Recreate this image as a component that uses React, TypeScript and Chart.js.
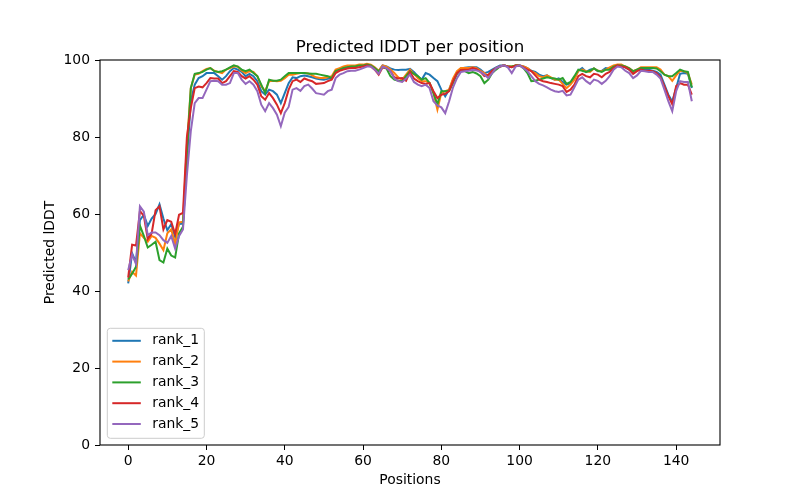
import React, { useEffect, useRef } from "react";
import { Chart, registerables } from "chart.js";

Chart.register(...registerables);

const seriesNames = ["rank_1", "rank_2", "rank_3", "rank_4", "rank_5"];
const seriesColors = ["#1f77b4", "#ff7f0e", "#2ca02c", "#d62728", "#9467bd"];

const rank1 = [
  42.0, 49.8, 47.4, 58.4, 59.8, 56.9, 58.8, 60.0, 62.5, 58.8, 55.8, 57.4, 54.0, 57.4, 57.5,
  74.0, 89.3, 93.6, 95.3, 95.8, 96.6, 96.6, 96.6, 95.8, 94.9, 95.8, 97.1, 97.9, 97.5, 96.9, 95.8, 96.4, 95.8, 94.5, 91.9, 91.0, 92.3, 91.9, 91.0, 88.8, 91.4, 94.0,
  95.5, 95.3, 95.8, 96.0, 95.8, 95.5, 95.2, 95.0, 94.9, 95.1, 95.3, 96.9, 97.5, 97.8, 98.1, 98.3, 98.3, 98.6, 98.6, 98.8, 98.6, 97.9, 97.1, 98.6, 98.3, 97.8, 97.5, 97.4,
  97.5, 97.5, 97.7, 96.9, 95.8, 94.9, 96.6, 96.2, 95.3, 94.5, 92.3, 90.6, 92.3, 94.9, 96.6, 97.8, 98.0, 98.1, 98.1, 98.1, 97.5, 96.6, 96.9, 97.5, 98.1, 98.6,
  98.6, 98.3, 98.1, 98.6, 98.6, 98.3, 97.9, 97.2, 96.9, 96.2, 95.8, 96.0, 95.3, 94.9, 95.2, 94.3, 93.6, 94.0, 95.3, 97.2, 97.9, 96.9, 97.5, 97.8, 97.1, 97.2, 97.9, 97.7,
  98.3, 98.6, 98.6, 98.1, 97.5, 96.6, 97.5, 97.8, 97.5, 97.5, 97.2, 96.9, 96.2, 93.6, 91.0, 89.2, 92.7, 96.4, 96.6, 96.4, 92.7,
];

const rank2 = [
  42.5, 45.0, 44.0, 55.0, 53.8, 52.8, 54.3, 53.8, 52.3, 50.6, 55.0, 56.0, 52.2, 57.8, 58.0,
  78.0, 92.7, 96.2, 96.4, 97.1, 97.7, 97.9, 97.2, 96.9, 96.6, 97.5, 97.9, 98.3, 98.3, 97.2, 96.6, 97.1, 96.9, 95.8, 93.2, 91.9, 94.5, 94.6, 94.5, 94.6, 95.3, 96.2,
  96.2, 96.4, 96.6, 96.6, 96.5, 96.0, 95.5, 95.3, 95.3, 95.5, 95.8, 97.5, 97.9, 98.3, 98.6, 98.6, 98.6, 98.8, 98.8, 99.0, 98.8, 98.1, 97.2, 98.6, 98.3, 97.5, 96.6, 95.5,
  94.9, 96.2, 97.5, 96.4, 95.3, 94.5, 94.5, 94.0, 91.4, 87.1, 91.4, 91.9, 92.3, 95.2, 97.1, 97.9, 97.9, 97.9, 98.1, 97.9, 97.2, 96.6, 95.8, 97.1, 97.9, 98.3,
  98.6, 98.3, 98.3, 98.6, 98.6, 98.3, 97.9, 97.1, 96.6, 95.8, 95.5, 96.0, 95.5, 94.9, 94.9, 93.8, 92.7, 93.6, 94.9, 97.2, 97.5, 97.1, 96.9, 97.8, 97.2, 97.1, 97.5, 98.1,
  98.6, 98.8, 98.8, 98.3, 97.9, 97.1, 97.5, 98.1, 98.1, 98.1, 98.1, 98.1, 97.5, 96.2, 95.8, 94.6, 96.0, 97.2, 97.1, 96.6, 93.6,
];

const rank3 = [
  43.0, 44.5, 46.3, 57.0, 54.3, 51.3, 52.0, 52.8, 48.0, 47.4, 51.0, 49.2, 48.7, 55.0, 56.7,
  76.0, 92.7, 96.4, 96.6, 96.9, 97.5, 97.9, 97.1, 96.9, 97.1, 97.5, 98.1, 98.6, 98.3, 97.5, 97.1, 97.5, 96.6, 95.8, 93.6, 91.4, 94.9, 94.6, 94.6, 94.9, 95.8, 96.6,
  96.6, 96.6, 96.6, 96.6, 96.5, 96.4, 96.4, 96.2, 96.0, 95.8, 95.3, 97.1, 97.5, 97.9, 98.1, 98.3, 98.3, 98.6, 98.6, 98.8, 98.6, 97.9, 97.1, 98.1, 97.8, 95.8, 94.9, 94.6,
  94.5, 95.8, 97.1, 96.4, 95.8, 94.9, 95.3, 94.0, 91.4, 88.5, 91.9, 91.9, 92.0, 94.0, 96.4, 97.4, 97.1, 96.6, 96.9, 96.5, 95.8, 94.0, 94.9, 96.6, 97.5, 98.3,
  98.6, 98.3, 98.3, 98.6, 98.6, 97.9, 96.6, 94.5, 94.6, 94.9, 95.2, 95.5, 95.3, 95.2, 94.9, 95.3, 93.8, 94.3, 95.8, 97.5, 97.2, 96.9, 97.2, 97.8, 97.2, 96.9, 97.5, 97.5,
  98.3, 98.6, 98.6, 98.3, 97.8, 97.1, 97.5, 97.9, 97.9, 97.9, 97.9, 97.8, 97.1, 96.2, 95.8, 95.8, 96.6, 97.5, 97.1, 96.9, 92.9,
];

const rank4 = [
  43.5, 52.0, 51.8, 60.8, 59.5, 53.5, 55.0, 61.0, 62.0, 56.0, 58.4, 58.0, 54.8, 59.8, 60.3,
  80.0, 87.5, 92.7, 93.1, 92.9, 94.0, 95.3, 95.2, 95.2, 94.0, 94.5, 95.8, 97.1, 96.9, 95.8, 95.2, 95.8, 94.9, 93.6, 90.6, 89.7, 91.4, 90.1, 88.4, 86.2, 88.8, 92.3,
  94.5, 94.9, 94.3, 95.2, 94.8, 94.5, 93.8, 93.9, 94.0, 94.5, 94.9, 96.6, 97.2, 97.5, 97.8, 97.9, 97.9, 98.1, 98.3, 98.6, 98.3, 97.5, 96.2, 98.1, 97.9, 97.1, 95.5, 95.2,
  95.3, 94.6, 96.9, 95.2, 94.5, 94.0, 93.8, 94.0, 91.9, 90.1, 91.0, 91.2, 91.9, 94.5, 96.6, 97.4, 97.5, 97.5, 97.9, 97.6, 96.9, 95.8, 96.2, 97.2, 97.9, 98.3,
  98.6, 98.3, 98.1, 98.6, 98.6, 98.1, 97.5, 97.1, 96.0, 94.9, 94.5, 94.3, 94.0, 93.8, 93.6, 93.2, 91.7, 92.3, 93.6, 95.8, 96.4, 95.8, 95.5, 96.4, 96.2, 95.5, 96.4, 96.9,
  97.9, 98.6, 98.3, 98.1, 97.5, 96.4, 97.1, 97.5, 97.2, 97.2, 97.1, 96.6, 95.5, 93.2, 90.6, 88.5, 93.2, 94.0, 93.6, 93.6, 91.0,
];

const rank5 = [
  45.4, 49.5, 47.0, 62.0, 60.6, 54.5, 55.2, 55.2, 54.5, 53.2, 52.5, 54.3, 51.0, 54.3, 56.0,
  70.0, 81.5, 88.8, 90.1, 90.1, 92.3, 94.5, 94.6, 94.5, 93.6, 93.6, 94.0, 96.6, 96.6, 94.9, 93.8, 94.5, 93.6, 91.9, 88.4, 86.7, 88.8, 87.5, 85.8, 82.8, 86.3, 87.8,
  92.3, 92.7, 92.0, 93.2, 93.6, 92.6, 91.4, 91.2, 91.0, 91.9, 92.3, 95.3, 96.2, 96.6, 97.1, 97.2, 97.2, 97.5, 97.9, 98.3, 98.3, 97.5, 96.4, 98.3, 97.9, 97.1, 95.2, 94.5,
  94.3, 95.2, 96.2, 94.3, 93.6, 93.2, 93.6, 92.7, 89.3, 88.2, 87.7, 86.2, 89.3, 92.9, 95.3, 96.9, 97.1, 97.2, 97.4, 97.3, 96.9, 96.2, 95.3, 96.6, 97.9, 98.3,
  98.6, 98.1, 96.6, 98.3, 98.6, 97.9, 97.1, 95.8, 94.5, 93.8, 93.4, 92.9, 92.3, 91.9, 91.7, 92.0, 90.8, 91.0, 92.9, 94.9, 95.5, 94.5, 93.8, 94.9, 94.6, 93.8, 94.6, 95.8,
  97.5, 98.3, 98.1, 97.2, 96.6, 95.3, 96.0, 97.2, 97.1, 96.9, 96.9, 96.2, 95.2, 92.3, 89.3, 86.7, 91.9, 94.5, 94.3, 94.3, 89.3,
];

const seriesValues = [rank1, rank2, rank3, rank4, rank5];
const xTicks = [0, 20, 40, 60, 80, 100, 120, 140];
const yTicks = [0, 20, 40, 60, 80, 100];
const titleText = "Predicted lDDT per position";
const xLabel = "Positions";
const yLabel = "Predicted lDDT";

const FONT = "'DejaVu Sans', sans-serif";

const decorPlugin = {
  id: "decor",
  afterDraw(chart: any) {
    const ctx = chart.ctx;
    const { left, right, top, bottom } = chart.chartArea;
    ctx.save();
    // frame
    ctx.strokeStyle = "#000";
    ctx.lineWidth = 1.1;
    ctx.strokeRect(left, top, right - left, bottom - top);
    // title
    ctx.fillStyle = "#000";
    ctx.font = `16.7px ${FONT}`;
    ctx.textAlign = "center";
    ctx.textBaseline = "alphabetic";
    ctx.fillText(titleText, (left + right) / 2, top - 8.5);
    // x label
    ctx.font = `13.9px ${FONT}`;
    ctx.textBaseline = "middle";
    ctx.fillText(xLabel, (left + right) / 2, 480);
    // y label
    ctx.save();
    ctx.translate(50, (top + bottom) / 2);
    ctx.rotate(-Math.PI / 2);
    ctx.fillText(yLabel, 0, 0);
    ctx.restore();
    // legend (lower left)
    const lx = left + 7.3;
    const ly = bottom - 116.7;
    const lw = 97;
    const lh = 110;
    const r = 3;
    ctx.beginPath();
    ctx.moveTo(lx + r, ly);
    ctx.lineTo(lx + lw - r, ly);
    ctx.arcTo(lx + lw, ly, lx + lw, ly + r, r);
    ctx.lineTo(lx + lw, ly + lh - r);
    ctx.arcTo(lx + lw, ly + lh, lx + lw - r, ly + lh, r);
    ctx.lineTo(lx + r, ly + lh);
    ctx.arcTo(lx, ly + lh, lx, ly + lh - r, r);
    ctx.lineTo(lx, ly + r);
    ctx.arcTo(lx, ly, lx + r, ly, r);
    ctx.closePath();
    ctx.fillStyle = "rgba(255,255,255,0.8)";
    ctx.fill();
    ctx.strokeStyle = "#cccccc";
    ctx.lineWidth = 1;
    ctx.stroke();
    ctx.font = `13.9px ${FONT}`;
    ctx.textAlign = "left";
    ctx.textBaseline = "middle";
    chart.data.datasets.forEach((ds: any, i: number) => {
      const y = ly + 12.5 + i * 20.8;
      ctx.strokeStyle = ds.borderColor;
      ctx.lineWidth = 2;
      ctx.beginPath();
      ctx.moveTo(lx + 5, y);
      ctx.lineTo(lx + 33.5, y);
      ctx.stroke();
      ctx.fillStyle = "#000";
      ctx.fillText(ds.label, lx + 45, y);
    });
    ctx.restore();
  },
};

export default function App() {
  const canvasRef = useRef<HTMLCanvasElement | null>(null);

  useEffect(() => {
    document.body.style.margin = "0";
    const canvas = canvasRef.current;
    if (!canvas) return;
    const datasets = seriesNames.map((name, k) => ({
      label: name,
      data: seriesValues[k].map((v, i) => ({ x: i, y: v })),
      borderColor: seriesColors[k],
      backgroundColor: seriesColors[k],
      borderWidth: 2,
      pointRadius: 0,
      tension: 0,
      fill: false,
      order: seriesNames.length - k,
    }));
    const chart = new Chart(canvas, {
      type: "line",
      data: { datasets },
      options: {
        responsive: false,
        animation: false,
        maintainAspectRatio: false,
        layout: { padding: { left: 0, top: 60, right: 80, bottom: 0 } },
        plugins: {
          legend: { display: false },
          title: { display: false },
          tooltip: { enabled: false },
        },
        scales: {
          x: {
            type: "linear",
            min: -7.2,
            max: 151.2,
            afterFit: (s: any) => {
              s.height = 55;
            },
            afterBuildTicks: (s: any) => {
              s.ticks = xTicks.map((v) => ({ value: v }));
            },
            grid: {
              drawOnChartArea: false,
              drawTicks: true,
              tickLength: 5,
              tickColor: "#000",
              tickWidth: 1,
            },
            border: { display: false },
            ticks: {
              color: "#000",
              font: { family: FONT, size: 13.9 },
              padding: 3,
              maxRotation: 0,
              autoSkip: false,
            },
          },
          y: {
            type: "linear",
            min: 0,
            max: 100,
            afterFit: (s: any) => {
              s.width = 100;
            },
            afterBuildTicks: (s: any) => {
              s.ticks = yTicks.map((v) => ({ value: v }));
            },
            grid: {
              drawOnChartArea: false,
              drawTicks: true,
              tickLength: 5,
              tickColor: "#000",
              tickWidth: 1,
            },
            border: { display: false },
            ticks: {
              color: "#000",
              font: { family: FONT, size: 13.9 },
              padding: 5,
              autoSkip: false,
            },
          },
        },
      },
      plugins: [decorPlugin],
    } as any);
    return () => {
      chart.destroy();
    };
  }, []);

  return (
    <div style={{ position: "absolute", left: 0, top: 0, width: 800, height: 500, background: "#fff" }}>
      <canvas ref={canvasRef} width={800} height={500} style={{ width: 800, height: 500 }} />
    </div>
  );
}
